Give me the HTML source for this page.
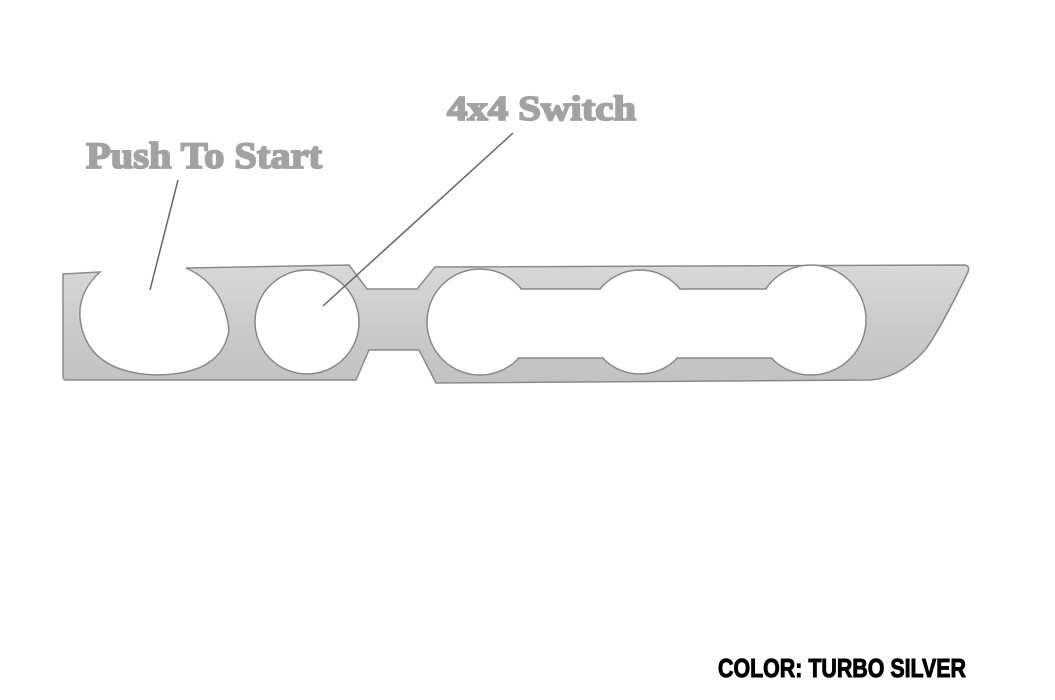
<!DOCTYPE html>
<html><head><meta charset="utf-8"><style>html,body{margin:0;padding:0;background:#fff}svg{display:block}</style></head>
<body>
<svg width="1055" height="700" viewBox="0 0 1055 700" xmlns="http://www.w3.org/2000/svg">
<defs>
<linearGradient id="g" x1="0" y1="0" x2="0" y2="1">
<stop offset="0" stop-color="#d8d8d8"/><stop offset="0.5" stop-color="#cbcbcb"/><stop offset="1" stop-color="#c2c2c2"/>
</linearGradient>
</defs>
<path d="M63,274 L100,272 Q78,292 80,318 Q86,372 155,375 Q222,375 229,330 Q224,285 186,268 L349,265 L367,289 L417,289 L435,267 L965,265 Q970,266 968,272 Q940,330 925,350 Q900,378 870,380 L436,383 L419,350 L369,350 L356,380 L66,380 Q63,380 63,376 Z" fill="url(#g)" stroke="#8a8a8a" stroke-width="1.5"/>
<circle cx="307" cy="322" r="52" fill="#fff" stroke="#888" stroke-width="1.5"/>
<g fill="#fff" stroke="#888" stroke-width="1.5">
<circle cx="480" cy="322" r="53"/>
<circle cx="640" cy="322" r="52"/>
<circle cx="811" cy="320" r="55"/>
<rect x="505" y="289" width="280" height="69"/>
</g>
<g fill="#fff">
<circle cx="480" cy="322" r="52"/>
<circle cx="640" cy="322" r="51"/>
<circle cx="811" cy="320" r="54"/>
<rect x="505" y="290" width="280" height="67"/>
</g>
<line x1="178" y1="180" x2="150" y2="290" stroke="#666" stroke-width="1.5"/>
<line x1="513" y1="133" x2="323" y2="306" stroke="#666" stroke-width="1.5"/>
<text x="86" y="168" font-family="Liberation Serif, serif" font-weight="bold" font-size="37" fill="#a2a2a2" stroke="#a2a2a2" stroke-width="1.8" textLength="236" lengthAdjust="spacingAndGlyphs">Push To Start</text>
<text x="447" y="120" font-family="Liberation Serif, serif" font-weight="bold" font-size="35" fill="#a2a2a2" stroke="#a2a2a2" stroke-width="1.8" textLength="189" lengthAdjust="spacingAndGlyphs">4x4 Switch</text>
<text x="718" y="677" font-family="Liberation Sans, sans-serif" font-weight="bold" font-size="26" fill="#000" stroke="#000" stroke-width="1" textLength="248" lengthAdjust="spacingAndGlyphs">COLOR: TURBO SILVER</text>
</svg>
</body></html>
